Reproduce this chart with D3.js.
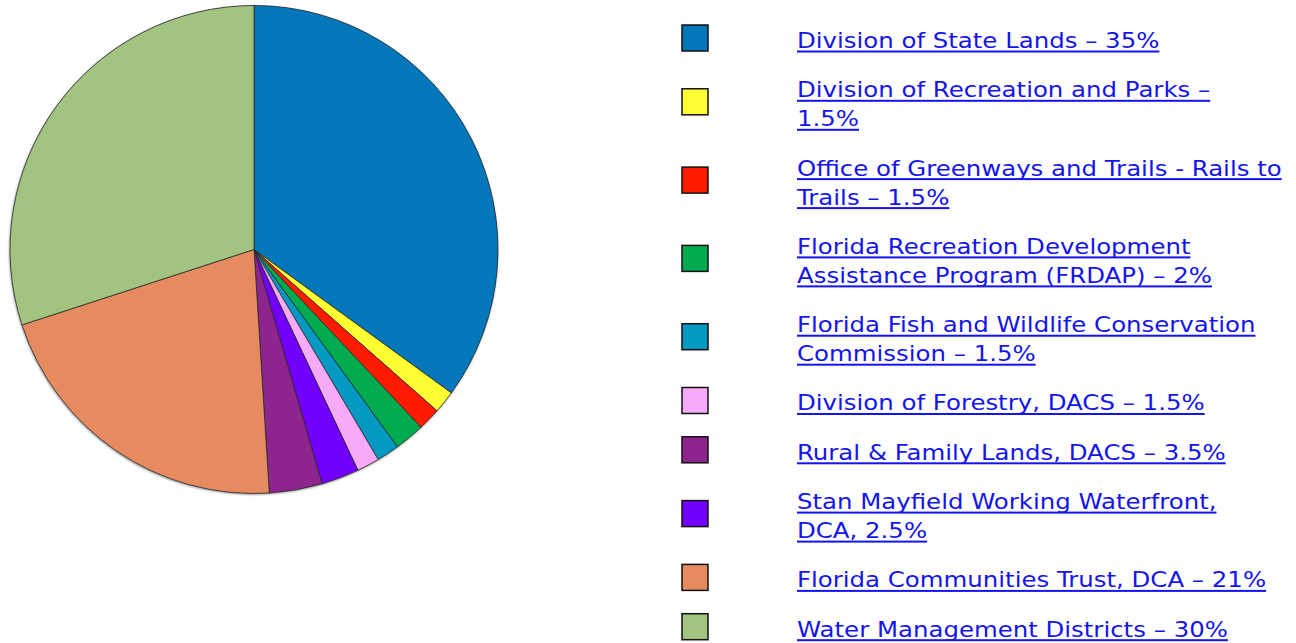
<!DOCTYPE html>
<html lang="en">
<head>
    <script src="https://d3js.org/d3.v7.min.js"></script>
    <style>
        body { margin: 0; background: #fff; }
        svg { display: block; }
        .lbl { font-family: 'DejaVu Sans', Verdana, sans-serif; font-size: 22px; fill: #1414ee; }
    </style>
</head>
<body>
<script>
    var width = 1296, height = 643;

    // data
    var agencies = [
        "Division of State Lands", "Division of Recreation and Parks",
        "Office of Greenways and Trails - Rails to Trails",
        "Florida Recreation Development Assistance Program (FRDAP)",
        "Florida Fish and Wildlife Conservation Commission",
        "Division of Forestry, DACS", "Rural & Family Lands, DACS",
        "Stan Mayfield Working Waterfront, DCA",
        "Florida Communities Trust, DCA", "Water Management Districts"
    ];
    var shares = [35, 1.5, 1.5, 2, 1.5, 1.5, 3.5, 2.5, 21, 30];
    var colours = ["#0377b9", "#ffff33", "#ff1a00", "#00aa4e", "#0399c2",
                   "#f7aaf7", "#8e248e", "#7300ff", "#e68a5f", "#a3c380"];
    // slice order round the pie (clockwise from 12 o'clock)
    var pieOrder = [0, 1, 2, 3, 4, 5, 7, 6, 8, 9];
    // legend text as it wraps in the picture
    var legendLines = [
        ["Division of State Lands \u2013 35%"],
        ["Division of Recreation and Parks \u2013", "1.5%"],
        ["Office of Greenways and Trails - Rails to", "Trails \u2013 1.5%"],
        ["Florida Recreation Development", "Assistance Program (FRDAP) \u2013 2%"],
        ["Florida Fish and Wildlife Conservation", "Commission \u2013 1.5%"],
        ["Division of Forestry, DACS \u2013 1.5%"],
        ["Rural & Family Lands, DACS \u2013 3.5%"],
        ["Stan Mayfield Working Waterfront,", "DCA, 2.5%"],
        ["Florida Communities Trust, DCA \u2013 21%"],
        ["Water Management Districts \u2013 30%"]
    ];

    var svg = d3.select('body').append('svg').attr('width', width).attr('height', height);

    var defs = svg.append('defs');
    var f = defs.append('filter').attr('id', 'shadow').attr('x', '-5%').attr('y', '-5%')
        .attr('width', '110%').attr('height', '110%');
    f.append('feDropShadow').attr('dx', -0.5).attr('dy', 1).attr('stdDeviation', 1)
        .attr('flood-color', '#000').attr('flood-opacity', 0.5);

    // pie
    var cx = 254, cy = 249.5, r = 244;
    var pie = d3.pie().sort(null).value(function(d) { return shares[d]; });
    var arc = d3.arc().innerRadius(0).outerRadius(r);
    var g = svg.append('g').attr('transform', 'translate(' + cx + ',' + cy + ')');
    g.append('circle').attr('r', r).attr('fill', '#888').attr('filter', 'url(#shadow)');
    g.selectAll('path')
        .data(pie(pieOrder))
        .join('path')
        .attr('d', arc)
        .attr('fill', function(d) { return colours[d.data]; })
        .attr('stroke', '#2a2a2a')
        .attr('stroke-width', 0.8)
        .attr('stroke-linejoin', 'round');

    // legend
    var lineH = 29, rowGap = 49.3;
    var textX = 797, boxX = 682, box = 26, stretch = 1.11;
    var lg = svg.append('g');
    var tg = svg.append('g').attr('transform', 'translate(' + textX + ',0) scale(' + stretch + ',1)');
    var base = 48;
    legendLines.forEach(function(lines, i) {
        var first = base, last = base + (lines.length - 1) * lineH;
        var mid = (first + last) / 2 - 10;
        lg.append('rect')
            .attr('x', boxX).attr('y', mid - box / 2)
            .attr('width', box).attr('height', box)
            .attr('fill', colours[i])
            .attr('stroke', '#111').attr('stroke-width', 1.5);
        lines.forEach(function(t, j) {
            var y = base + j * lineH;
            var txt = tg.append('text').attr('class', 'lbl')
                .attr('x', 0).attr('y', y).text(t);
            var w = txt.node().getComputedTextLength();
            tg.append('rect').attr('x', 0).attr('y', y + 2.5)
                .attr('width', w).attr('height', 2).attr('fill', '#1414ee');
        });
        base = last + rowGap;
    });
</script>
</body>
</html>
